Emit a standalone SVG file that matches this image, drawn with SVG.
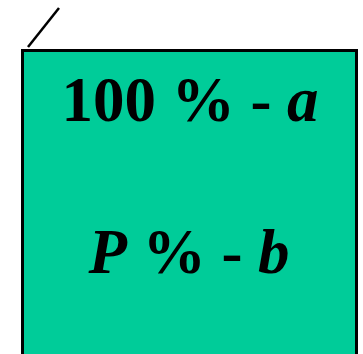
<svg xmlns="http://www.w3.org/2000/svg" width="363" height="354" viewBox="0 0 363 354">
<style>
.t{font-family:"Liberation Serif","Times New Roman",serif;font-weight:bold;font-size:63px;fill:#000;text-anchor:middle}
.i{font-style:italic}
</style>
<rect width="363" height="354" fill="#fff"/>
<g id="connectors">
<line x1="28" y1="47" x2="59" y2="8" stroke="#000" stroke-width="2.5"/>
</g>
<g id="box">
<rect x="22.5" y="50.5" width="334" height="320" fill="#00CC99" stroke="#000" stroke-width="3"/>
<text class="t" x="190" y="121">100 % - <tspan class="i">a</tspan></text>
<text class="t" x="189" y="273"><tspan class="i">P</tspan> % - <tspan class="i">b</tspan></text>
</g>
</svg>
